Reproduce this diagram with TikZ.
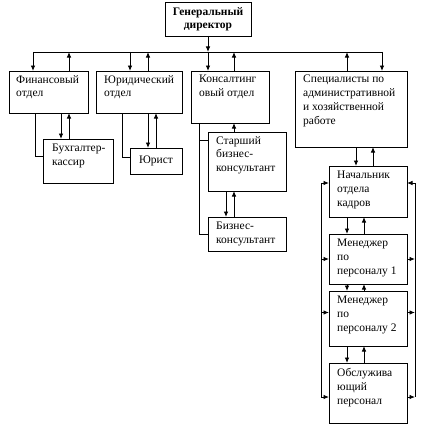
\documentclass[tikz,border=0pt]{standalone}
\usepackage{fontspec}
\setmainfont{Liberation Serif}
\usetikzlibrary{arrows.meta,calc}
\begin{document}
\begin{tikzpicture}[x=1pt,y=-1pt,
  box/.style={draw,line width=0.9pt,inner sep=0pt,outer sep=0pt,anchor=north west},
  txt/.style={anchor=north west,inner sep=0pt,align=left,font=\fontsize{11.5}{13.8}\selectfont},
  arr/.style={line width=0.9pt,-{Latex[length=5.5pt,width=4.5pt]}},
  ln/.style={line width=0.9pt}]
\useasboundingbox (0,0) rectangle (433,428);
% boxes
\node[box,minimum width=86pt,minimum height=34pt] (gd) at (165,2) {};
\node[align=center,font=\fontsize{11.5}{13.2}\selectfont\bfseries,inner sep=0pt] at (gd.center) {Генеральный\\директор};
\node[box,minimum width=79pt,minimum height=42pt] (fin) at (9,71) {};
\node[box,minimum width=86pt,minimum height=42pt] (jur) at (96,71) {};
\node[box,minimum width=78pt,minimum height=52pt] (kons) at (191,71) {};
\node[box,minimum width=112pt,minimum height=76pt] (spec) at (295,71) {};
\node[box,minimum width=70pt,minimum height=44pt] (buh) at (43,139) {};
\node[box,minimum width=52pt,minimum height=26pt] (jurist) at (130,148) {};
\node[box,minimum width=78pt,minimum height=59pt] (star) at (208,132) {};
\node[box,minimum width=78pt,minimum height=34pt] (biz) at (208,217) {};
\node[box,minimum width=78pt,minimum height=51pt] (nach) at (329,166) {};
\node[box,minimum width=78pt,minimum height=50pt] (m1) at (329,234) {};
\node[box,minimum width=78pt,minimum height=55pt] (m2) at (329,291) {};
\node[box,minimum width=78pt,minimum height=60pt] (obs) at (329,363) {};
% texts
\node[txt] at ([shift={(7,4)}]fin.north west) {Финансовый\\отдел};
\node[txt] at ([shift={(8,4)}]jur.north west) {Юридический\\отдел};
\node[txt] at ([shift={(8,4)}]kons.north west) {Консалтинг\\овый отдел};
\node[txt] at ([shift={(8,4)}]spec.north west) {Специалисты по\\административной\\и хозяйственной\\работе};
\node[txt] at ([shift={(9,5)}]buh.north west) {Бухгалтер-\\кассир};
\node[txt,anchor=center] at (jurist.center) {Юрист};
\node[txt] at ([shift={(8,4)}]star.north west) {Старший\\бизнес-\\консультант};
\node[txt] at ([shift={(8,5)}]biz.north west) {Бизнес-\\консультант};
\node[txt] at ([shift={(8,5)}]nach.north west) {Начальник\\отдела\\кадров};
\node[txt] at ([shift={(8,5)}]m1.north west) {Менеджер\\по\\персоналу 1};
\node[txt] at ([shift={(8,5)}]m2.north west) {Менеджер\\по\\персоналу 2};
\node[txt] at ([shift={(8,5)}]obs.north west) {Обслужива\\ющий\\персонал};
% bus
\coordinate (busL) at (33,52);
\coordinate (busR) at (382,52);
\draw[ln] (busL) -- (busR);
\draw[arr] (gd.south) -- (busL -| gd.south);
\draw[arr] (busL -| gd.south) -- (kons.north -| gd.south);
\draw[arr] (busL) -- (busL |- fin.north);
\draw[arr] (fin.north -| 69,0) -- (busL -| 69,0);
\draw[arr] (busL -| 130,0) -- (jur.north -| 130,0);
\draw[arr] (jur.north -| 148,0) -- (busL -| 148,0);
\draw[arr] (kons.north -| 234,0) -- (busL -| 234,0);
\draw[arr] (spec.north -| 347,0) -- (busL -| 347,0);
\draw[arr] (busR) -- (busR |- spec.north);
% finance
\draw[ln] (fin.south -| 35,0) |- ([yshift=5pt]buh.west);
\draw[arr] (fin.south -| 61,0) -- (buh.north -| 61,0);
\draw[arr] (buh.north -| 69,0) -- (fin.south -| 69,0);
% legal
\draw[ln] (jur.south -| 122,0) |- ([yshift=4pt]jurist.west);
\draw[arr] (jur.south -| 148,0) -- (jurist.north -| 148,0);
\draw[arr] (jurist.north -| 156,0) -- (jur.south -| 156,0);
% consulting
\draw[ln] (kons.south -| 199,0) |- (biz.west);
\draw[ln] (star.north west -| 199,0) ++(0,8) -- ($(star.north west)+(0,8)$);
\draw[arr] (star.north -| 234,0) -- (kons.south -| 234,0);
\draw[arr] (star.south -| 226,0) -- (biz.north -| 226,0);
\draw[arr] (biz.north -| 234,0) -- (star.south -| 234,0);
% admin
\draw[arr] (spec.south -| 356,0) -- (nach.north -| 356,0);
\draw[arr] (nach.north -| 373,0) -- (spec.south -| 373,0);
\draw[arr] (nach.south -| 347,0) -- (m1.north -| 347,0);
\draw[arr] (m1.north -| 364,0) -- (nach.south -| 364,0);
\draw[arr] (m1.south -| 347,0) -- (m2.north -| 347,0);
\draw[arr] (m2.north -| 364,0) -- (m1.south -| 364,0);
\draw[arr] (m2.south -| 347,0) -- (obs.north -| 347,0);
\draw[arr] (obs.north -| 364,0) -- (m2.south -| 364,0);
% side lines
\coordinate (lt) at (321,183);
\coordinate (lb) at (321,397);
\draw[ln] (lt) -- (lb);
\draw[arr] (lt) -- (lt -| nach.west);
\draw[arr] (m1.west -| lt) -- (m1.west);
\draw[arr] ([yshift=6pt]m2.west -| lt) -- ([yshift=6pt]m2.west);
\draw[arr] (lb) -- (lb -| obs.west);
\coordinate (rt) at (415,183);
\coordinate (rb) at (415,397);
\draw[ln] (rt) -- (rb);
\draw[arr] (rt) -- (rt -| nach.east);
\draw[arr] (m1.east) -- (m1.east -| rt);
\draw[arr] ([yshift=6pt]m2.east) -- ([yshift=6pt]m2.east -| rt);
\draw[arr] (rb -| obs.east) -- (rb);
\end{tikzpicture}
\end{document}
